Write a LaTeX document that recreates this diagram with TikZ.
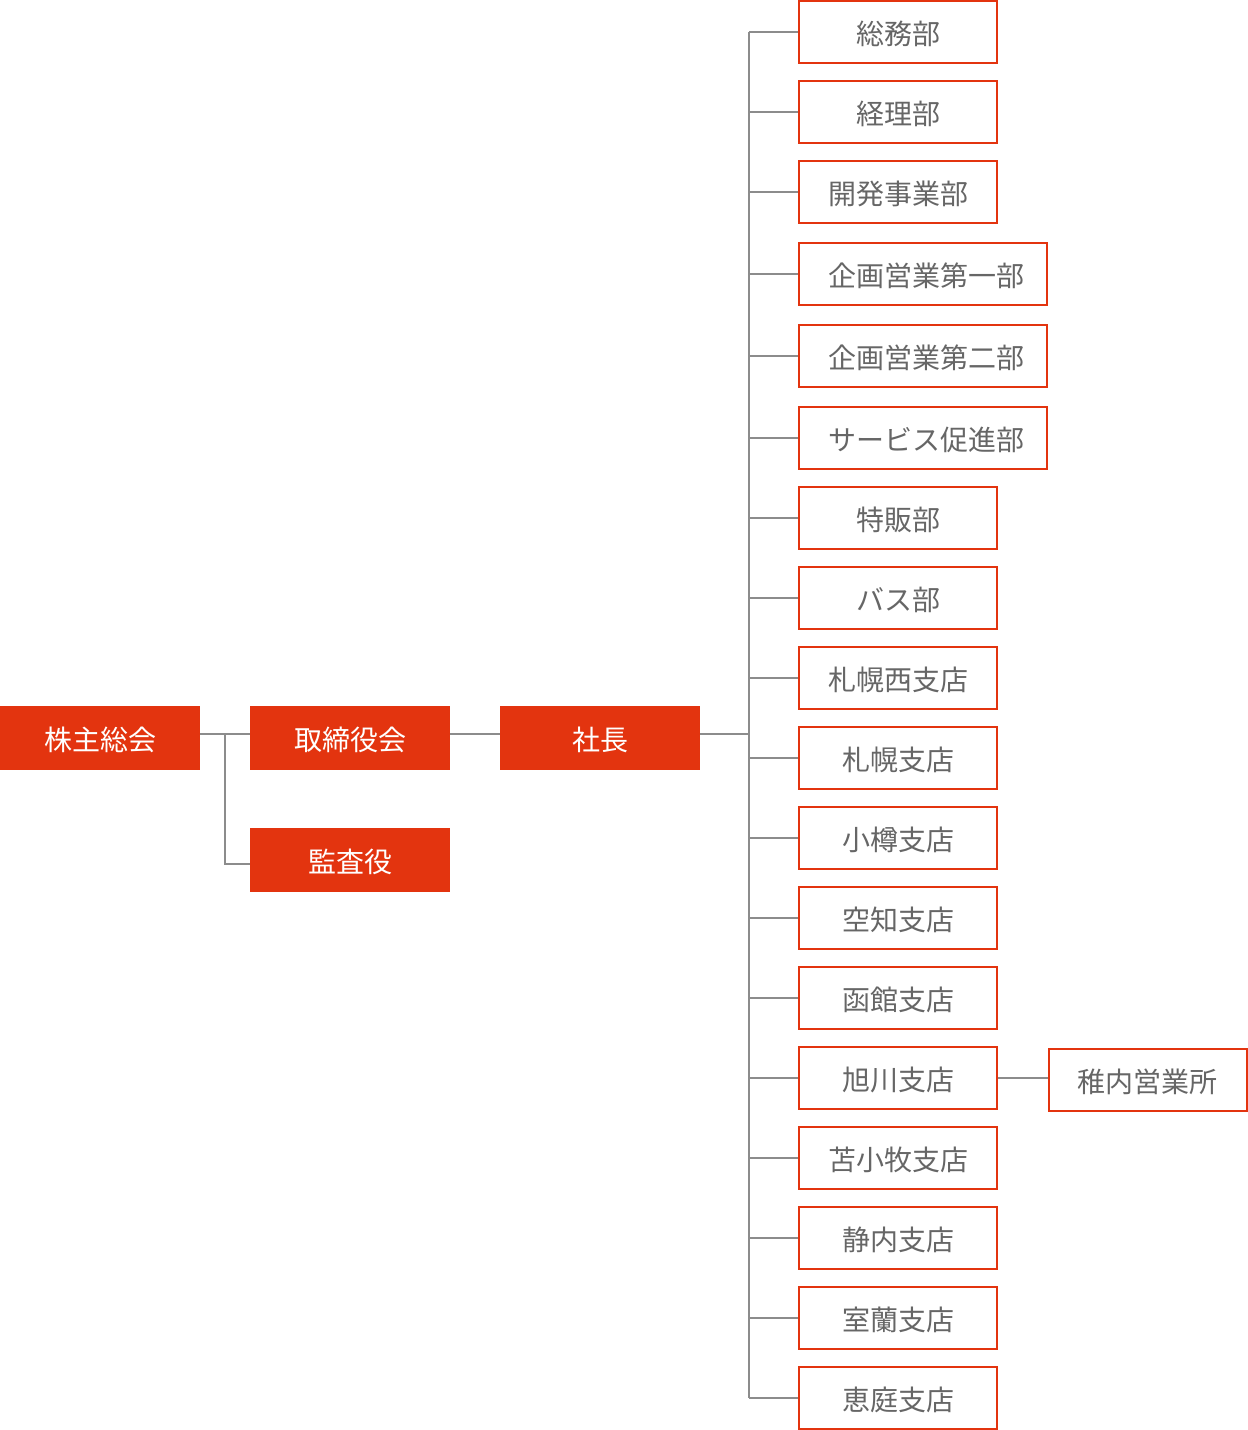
\documentclass[tikz,border=0pt]{standalone}
\usepackage{fontspec}
\setmainfont{Noto Sans CJK JP}
\definecolor{orgred}{HTML}{E3340F}
\definecolor{linegray}{HTML}{8C8C8C}
\definecolor{txtgray}{HTML}{666666}
\begin{document}
\begin{tikzpicture}[x=0.75pt,y=-0.75pt,
  base/.style={inner sep=0pt,text height=18.48pt,text depth=2.52pt,font=\fontsize{21pt}{24pt}\selectfont},
  lowtext/.style={execute at begin node={\lower1.5pt\hbox\bgroup},execute at end node={\egroup}},
  filled/.style={base,fill=orgred,draw=none,text=white,minimum width=150pt,minimum height=48pt,lowtext},
  outl/.style={base,draw=orgred,line width=1.5pt,fill=white,text=txtgray,minimum width=148.5pt,minimum height=46.5pt,lowtext},
  wide/.style={base,draw=orgred,line width=1.5pt,fill=white,text=txtgray,minimum width=186pt,minimum height=46.5pt,
    execute at begin node={\lower1.5pt\hbox\bgroup\hspace*{5.25pt}},execute at end node={\egroup}},
  conn/.style={draw=linegray,line width=1.5pt}]
\useasboundingbox (0,0) rectangle (1248,1430);
\node[filled] (kabu) at (100,738) {株主総会};
\node[filled] (tori) at (350,738) {取締役会};
\node[filled] (shacho) at (600,738) {社長};
\node[filled] (kansa) at (350,860) {監査役};
\coordinate (tr) at (749,0);
\coordinate (kv) at (225,0);
\node[outl] (b1) at (898,32) {総務部};
\node[outl] (b2) at (898,112) {経理部};
\node[outl] (b3) at (898,192) {開発事業部};
\node[wide] (b4) at (922.5,274) {企画営業第一部};
\node[wide] (b5) at (922.5,356) {企画営業第二部};
\node[wide] (b6) at (922.5,438) {サービス促進部};
\node[outl] (b7) at (898,518) {特販部};
\node[outl] (b8) at (898,598) {バス部};
\node[outl] (b9) at (898,678) {札幌西支店};
\node[outl] (b10) at (898,758) {札幌支店};
\node[outl] (b11) at (898,838) {小樽支店};
\node[outl] (b12) at (898,918) {空知支店};
\node[outl] (b13) at (898,998) {函館支店};
\node[outl] (b14) at (898,1078) {旭川支店};
\node[outl] (b15) at (898,1158) {苫小牧支店};
\node[outl] (b16) at (898,1238) {静内支店};
\node[outl] (b17) at (898,1318) {室蘭支店};
\node[outl] (b18) at (898,1398) {恵庭支店};
\node[outl] (wk) at (1147.5,1080) {稚内営業所};
\draw[conn] ([yshift=3pt]kabu.east) -- ([yshift=3pt]tori.west);
\draw[conn] ([yshift=3pt]kabu.east -| kv) |- ([yshift=-3pt]kansa.west);
\draw[conn] ([yshift=3pt]tori.east) -- ([yshift=3pt]shacho.west);
\draw[conn] ([yshift=3pt]shacho.east) -- ([yshift=3pt]shacho.east -| tr);
\draw[conn] (b1.west -| tr) -- (b18.west -| tr);
\foreach \b in {b1,b2,b3,b4,b5,b6,b7,b8,b9,b10,b11,b12,b13,b14,b15,b16,b17,b18}
  \draw[conn] (\b.west -| tr) -- (\b.west);
\draw[conn] (b14.east) -- (b14.east -| wk.west);
\end{tikzpicture}
\end{document}
